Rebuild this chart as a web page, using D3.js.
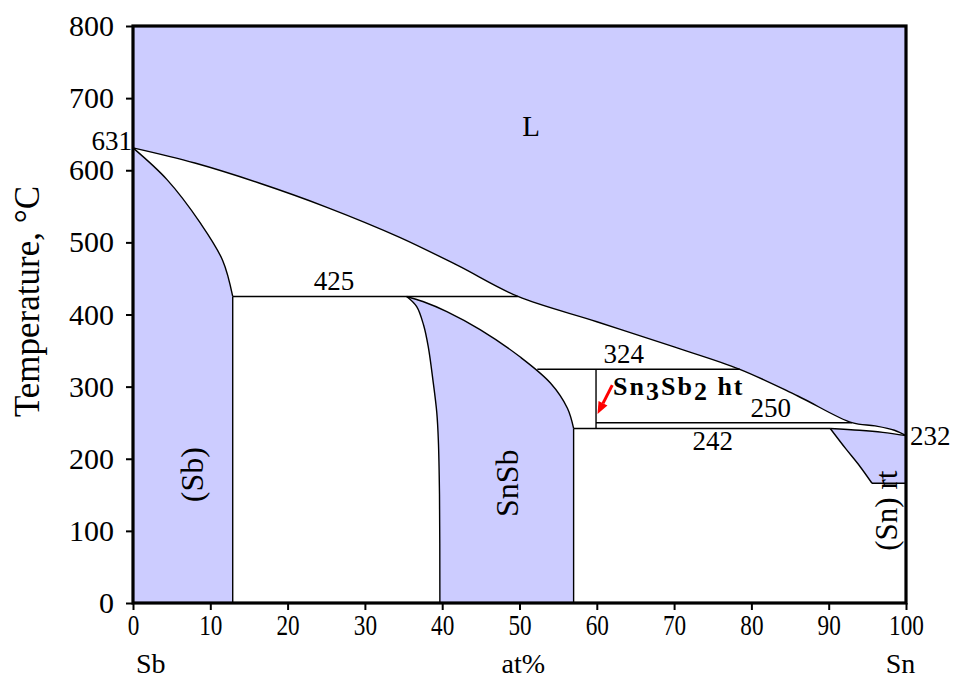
<!DOCTYPE html>
<html>
<head>
<meta charset="utf-8">
<script src="https://cdn.jsdelivr.net/npm/d3@7"></script>
<style>
  html, body { margin: 0; padding: 0; background: #fff; }
  svg { display: block; font-family: "Liberation Serif", "Times New Roman", serif; }
</style>
</head>
<body>
<svg id="chart" width="958" height="679"></svg>
<script>
// Sb–Sn phase diagram: composition in at% Sn, temperature in °C
const compTicks = [0, 10, 20, 30, 40, 50, 60, 70, 80, 90, 100];
const tempTicks = [0, 100, 200, 300, 400, 500, 600, 700, 800];

// Liquidus, from pure Sb (631 °C) to pure Sn (232 °C)
const liquidus = [[0, 631], [8, 610], [16.4, 582], [25, 549], [34.5, 507],
  [42, 468], [49.8, 425], [60, 390], [70, 355], [78.5, 324], [86, 287],
  [93, 250], [96, 245.5], [98.5, 239.5], [100, 232]];
// (Sb) solidus
const sbSolidus = [[0, 631], [4.4, 587], [8.7, 527], [11.6, 475], [12.9, 425]];
const sbSolvusX = 12.9;
// SnSb phase boundaries
const snsbLeft = [[35.4, 425], [36.7, 411], [37.6, 385], [38.2, 355], [38.8, 309], [39.3, 264],
  [39.5, 226], [39.65, 150], [39.7, 0]];
const snsbRight = [[35.4, 425], [37.5, 418], [40.6, 404], [44.9, 379], [50.1, 341], [54, 305],
  [56.2, 270], [57, 242]];
const snsbRightX = 57;
// Sn3Sb2 (high temperature) line compound
const sn3sb2X = 59.9;
const sn3sb2Top = 324;
const sn3sb2Bottom = 242;
// (Sn) solidus and solvus
const snSolidus = [[90.2, 242], [94, 239.5], [97, 236.5], [100, 232]];
const snSolvus = [[90.2, 242], [92.2, 214], [94, 190], [95.6, 166]];
const snLowT = 166;
// Invariant reactions: temperature and composition span
const invariantT = [425, 324, 250, 242];
const invariantFrom = [12.9, 52.3, 59.9, 57];
const invariantTo = [49.8, 78.5, 93, 90.2];

const svg = d3.select("#chart");
const x = d3.scaleLinear().domain([0, 100]).range([133, 906]);
const y = d3.scaleLinear().domain([0, 800]).range([603, 26]);

const fillColor = "#ccccff";
const line = d3.line().x(d => x(d[0])).y(d => y(d[1])).curve(d3.curveCatmullRom.alpha(0.5));
const seg = pts => line(pts).replace(/^M/, "L");
const P = (c, t) => `${x(c)},${y(t)}`;

const regions = svg.append("g");
// Liquid
regions.append("path").attr("fill", fillColor)
  .attr("d", line(liquidus) + `L${P(100, 800)}L${P(0, 800)}Z`);
// (Sb)
regions.append("path").attr("fill", fillColor)
  .attr("d", line(sbSolidus) + `L${P(sbSolvusX, 0)}L${P(0, 0)}Z`);
// SnSb
regions.append("path").attr("fill", fillColor)
  .attr("d", line(snsbLeft) + `L${P(snsbRightX, 0)}L${P(snsbRightX, 242)}` + seg(snsbRight.slice().reverse()) + "Z");
// (Sn)
regions.append("path").attr("fill", fillColor)
  .attr("d", line(snSolidus) + `L${P(100, snLowT)}L${P(snSolvus[snSolvus.length - 1][0], snLowT)}` + seg(snSolvus.slice().reverse()) + "Z");

// Phase boundaries
const bounds = svg.append("g").attr("fill", "none").attr("stroke", "#000").attr("stroke-width", 1.4);
[liquidus, sbSolidus, snsbLeft, snsbRight, snSolidus, snSolvus].forEach(pts =>
  bounds.append("path").attr("d", line(pts)));
bounds.append("path").attr("d", `M${P(sbSolvusX, 425)}L${P(sbSolvusX, 0)}`);
bounds.append("path").attr("d", `M${P(snsbRightX, 242)}L${P(snsbRightX, 0)}`);
bounds.append("path").attr("d", `M${P(sn3sb2X, sn3sb2Top)}L${P(sn3sb2X, sn3sb2Bottom)}`);
bounds.append("path").attr("d", `M${P(snSolvus[snSolvus.length - 1][0], snLowT)}L${P(100, snLowT)}`);
invariantT.forEach((t, i) =>
  bounds.append("path").attr("d", `M${P(invariantFrom[i], t)}L${P(invariantTo[i], t)}`));

// Axes
const yAxis = svg.append("g").attr("transform", `translate(${x(0)},0)`)
  .call(d3.axisLeft(y).tickValues(tempTicks).tickSize(7).tickPadding(12).tickFormat(d3.format("d")));
const xAxis = svg.append("g").attr("transform", `translate(0,${y(0)})`)
  .call(d3.axisBottom(x).tickValues(compTicks).tickSize(7).tickPadding(4).tickFormat(d3.format("d")));
[yAxis, xAxis].forEach(a => {
  a.attr("font-family", null);
  a.select(".domain").remove();
  a.selectAll(".tick line").attr("stroke", "#000").attr("stroke-width", 2);
  a.selectAll(".tick text").attr("fill", "#000");
});
yAxis.selectAll(".tick text").attr("font-size", 30);
xAxis.selectAll(".tick text").attr("font-size", 29).attr("transform", "scale(0.8,1)");

// Frame
svg.append("rect")
  .attr("x", x(0)).attr("y", y(800))
  .attr("width", x(100) - x(0)).attr("height", y(0) - y(800))
  .attr("fill", "none").attr("stroke", "#000").attr("stroke-width", 3.2);

// Axis titles
const txt = (px, py, s, size, anchor = "middle") => svg.append("text")
  .attr("x", px).attr("y", py).attr("font-size", size).attr("text-anchor", anchor).attr("fill", "#000").text(s);
txt(x(2.3), 673, "Sb", 28);
txt(x(50.5), 673, "at%", 28);
txt(x(99.3), 673, "Sn", 28);
svg.append("text").attr("transform", `translate(39,${y(418)}) rotate(-90)`)
  .attr("text-anchor", "middle").attr("font-size", 35).attr("fill", "#000").text("Temperature, °C");

// Annotations
txt(x(51.5), y(648), "L", 29);
txt(x(26), y(425) - 6, "425", 27);
txt(x(63.5), y(324) - 6, "324", 27);
txt(x(82.5), y(250) - 6, "250", 27);
txt(x(75), y(242) + 22, "242", 27);
txt(x(100) + 4, y(232) + 9, "232", 27, "start");
txt(x(0) - 1, y(631) + 2, "631", 27, "end");

const rot = (px, py, s, size) => svg.append("text")
  .attr("transform", `translate(${px},${py}) rotate(-90)`)
  .attr("text-anchor", "middle").attr("font-size", size).attr("fill", "#000").text(s);
rot(x(8.0) + 8, y(178), "(Sb)", 32);
rot(x(48.5) + 10, y(166), "SnSb", 32);
rot(x(97.5) + 10, y(128), "(Sn) rt", 31);

// Sn3Sb2 ht label with subscripts
const lab = svg.append("text").attr("x", x(62.1)).attr("y", y(289))
  .attr("font-size", 26).attr("font-weight", "bold").attr("letter-spacing", 2).attr("fill", "#000");
lab.append("tspan").text("Sn");
lab.append("tspan").attr("dy", 5).text("3");
lab.append("tspan").attr("dy", -5).text("Sb");
lab.append("tspan").attr("dy", 5).text("2");
lab.append("tspan").attr("dy", -5).text(" ht");

// Red arrow pointing to the Sn3Sb2 line
const tail = [x(62.0), y(302)], tip = [x(sn3sb2X) + 1.5, y(262)];
const ang = Math.atan2(tip[1] - tail[1], tip[0] - tail[0]);
const headLen = 12, headW = 5;
const base = [tip[0] - headLen * Math.cos(ang), tip[1] - headLen * Math.sin(ang)];
svg.append("line").attr("x1", tail[0]).attr("y1", tail[1]).attr("x2", base[0]).attr("y2", base[1])
  .attr("stroke", "#ff0000").attr("stroke-width", 3);
svg.append("path").attr("fill", "#ff0000")
  .attr("d", `M${tip[0]},${tip[1]}L${base[0] + headW * Math.sin(ang)},${base[1] - headW * Math.cos(ang)}L${base[0] - headW * Math.sin(ang)},${base[1] + headW * Math.cos(ang)}Z`);
</script>
</body>
</html>
